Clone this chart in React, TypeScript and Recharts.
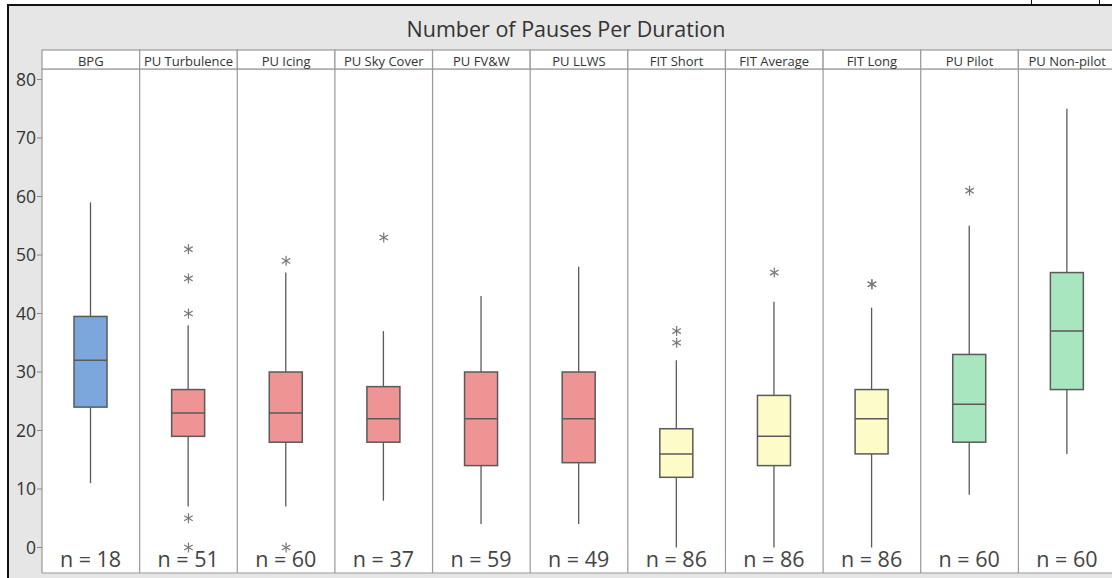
import React from 'react';
import {
  ComposedChart,
  Bar,
  Scatter,
  XAxis,
  YAxis,
  CartesianGrid,
} from 'recharts';

const categories = [
  'BPG',
  'PU Turbulence',
  'PU Icing',
  'PU Sky Cover',
  'PU FV&W',
  'PU LLWS',
  'FIT Short',
  'FIT Average',
  'FIT Long',
  'PU Pilot',
  'PU Non-pilot',
];
const whiskerLow = [11, 7, 7, 8, 4, 4, 0, 0, 0, 9, 16];
const q1 = [24, 19, 18, 18, 14, 14.5, 12, 14, 16, 18, 27];
const medians = [32, 23, 23, 22, 22, 22, 16, 19, 22, 24.5, 37];
const q3 = [39.5, 27, 30, 27.5, 30, 30, 20.3, 26, 27, 33, 47];
const whiskerHigh = [59, 38, 47, 37, 43, 48, 32, 42, 41, 55, 75];
const counts = [18, 51, 60, 37, 59, 49, 86, 86, 86, 60, 60];
const groupColors = [
  '#7ba7dc',
  '#ee9494', '#ee9494', '#ee9494', '#ee9494', '#ee9494',
  '#fdfbc8', '#fdfbc8', '#fdfbc8',
  '#a8e6bf', '#a8e6bf',
];
const outliers: [string, number][] = [
  ['PU Turbulence', 51],
  ['PU Turbulence', 46],
  ['PU Turbulence', 40],
  ['PU Turbulence', 5],
  ['PU Turbulence', 0],
  ['PU Icing', 49],
  ['PU Icing', 0],
  ['PU Sky Cover', 53],
  ['FIT Short', 37],
  ['FIT Short', 35],
  ['FIT Average', 47],
  ['FIT Long', 45],
  ['FIT Long', 45],
  ['PU Pilot', 61],
];
const yTicks = [0, 10, 20, 30, 40, 50, 60, 70, 80];

const boxData = categories.map((name, i) => ({
  name,
  lo: whiskerLow[i],
  q1: q1[i],
  med: medians[i],
  q3: q3[i],
  hi: whiskerHigh[i],
  n: counts[i],
  color: groupColors[i],
}));
const outlierData = outliers.map(([name, value]) => ({ name, value }));

const EDGE = '#5a5a5a';
const FONT = '"Open Sans", "Noto Sans", sans-serif';

const BoxShape = (props: any) => {
  const { x, y, width, height, payload, background } = props;
  if (!payload) return null;
  const { lo, hi } = payload;
  const ppu = Math.abs(height) / (hi - lo || 1);
  const yOf = (v: number) => y + (hi - v) * ppu;
  const cx = x + width / 2;
  const bottom = background ? background.y + background.height : 573;
  return (
    <g>
      <line x1={cx} x2={cx} y1={yOf(hi)} y2={yOf(payload.q3)} stroke={EDGE} strokeWidth={1.3} />
      <line x1={cx} x2={cx} y1={yOf(payload.q1)} y2={yOf(lo)} stroke={EDGE} strokeWidth={1.3} />
      <rect
        x={x}
        y={yOf(payload.q3)}
        width={width}
        height={yOf(payload.q1) - yOf(payload.q3)}
        fill={payload.color}
        stroke={EDGE}
        strokeWidth={1.5}
      />
      <line x1={x} x2={x + width} y1={yOf(payload.med)} y2={yOf(payload.med)} stroke={EDGE} strokeWidth={1.5} />
      <text
        x={cx}
        y={bottom - 6}
        textAnchor="middle"
        fontSize={21.5}
        fill="#444"
        fontFamily={FONT}
      >
        {`n = ${payload.n}`}
      </text>
    </g>
  );
};

const Asterisk = (props: any) => {
  const { cx, cy } = props;
  if (cx == null || cy == null) return null;
  const r = 5;
  const d = r * 0.85;
  return (
    <g stroke="#777" strokeWidth={1.2}>
      <line x1={cx} x2={cx} y1={cy - r} y2={cy + r} />
      <line x1={cx - d} x2={cx + d} y1={cy - d * 0.6} y2={cy + d * 0.6} />
      <line x1={cx - d} x2={cx + d} y1={cy + d * 0.6} y2={cy - d * 0.6} />
    </g>
  );
};

const HeaderTick = (props: any) => {
  const { x, y, payload } = props;
  const half = payload && payload.offset ? payload.offset : 48.8;
  return (
    <g>
      <rect x={x - half} y={y - 19} width={half * 2} height={19} fill="#fff" stroke="#999" strokeWidth={1.2} />
      <text x={x} y={y - 3} textAnchor="middle" fontSize={13} fill="#333" fontFamily={FONT}>
        {payload.value}
      </text>
    </g>
  );
};

// panel boundaries: split the plot area into one equal cell per category
const panelEdges = ({ offset }: any) =>
  categories
    .map((_, i) => offset.left + (i * offset.width) / categories.length)
    .concat([offset.left + offset.width]);

export default function App() {
  return (
    <div
      style={{
        position: 'absolute',
        left: 0,
        top: 0,
        width: 1112,
        height: 578,
        overflow: 'hidden',
        background: '#fff',
      }}
    >
      <div
        style={{
          position: 'absolute',
          left: 7,
          top: 4,
          width: 1130,
          height: 600,
          borderLeft: '2px solid #111',
          borderTop: '2px solid #111',
          background: '#e6e6e6',
        }}
      />
      <div
        style={{
          position: 'absolute',
          left: 1031,
          top: 0,
          width: 67,
          height: 4,
          borderLeft: '1.5px solid #111',
          borderRight: '1.5px solid #111',
        }}
      />
      <div
        style={{
          position: 'absolute',
          left: 0,
          top: 15,
          width: 1132,
          textAlign: 'center',
          fontFamily: FONT,
          fontSize: 21.5,
          color: '#333',
          lineHeight: '28px',
        }}
      >
        Number of Pauses Per Duration
      </div>
      <div style={{ position: 'absolute', left: 0, top: 0 }}>
        <ComposedChart
          width={1130}
          height={578}
          data={boxData}
          margin={{ top: 50, right: 14, left: 8, bottom: 5 }}
        >
          <CartesianGrid
            fill="#fff"
            stroke="#999"
            strokeWidth={1.2}
            horizontalCoordinatesGenerator={({ offset }: any) => [offset.top, offset.top + offset.height]}
            verticalCoordinatesGenerator={panelEdges}
          />
          <XAxis
            dataKey="name"
            orientation="top"
            type="category"
            allowDuplicatedCategory={false}
            height={19}
            tickSize={0}
            tickMargin={0}
            tickLine={false}
            axisLine={false}
            interval={0}
            tick={<HeaderTick />}
          />
          <YAxis
            type="number"
            domain={[-4.36, 81.8]}
            ticks={yTicks}
            allowDataOverflow
            width={34}
            axisLine={false}
            tickLine={{ stroke: '#888' }}
            tickSize={5}
            tickMargin={1}
            tick={{ fill: '#333', fontSize: 17.5, fontFamily: FONT }}
          />
          <Bar
            dataKey={(d: any) => [d.lo, d.hi]}
            barSize={33}
            shape={<BoxShape />}
            isAnimationActive={false}
          />
          <Scatter
            data={outlierData}
            dataKey="value"
            shape={<Asterisk />}
            isAnimationActive={false}
          />
        </ComposedChart>
      </div>
    </div>
  );
}
